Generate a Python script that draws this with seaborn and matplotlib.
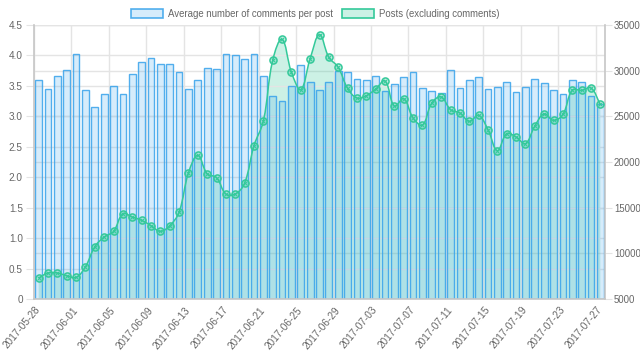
import numpy as np
import pandas as pd
import matplotlib
matplotlib.use('Agg')
import matplotlib.pyplot as plt
from matplotlib.path import Path
from matplotlib.patches import PathPatch, Patch
import seaborn as sns

# daily data, 2017-05-28 .. 2017-07-27
dates = pd.date_range('2017-05-28', '2017-07-27').strftime('%Y-%m-%d').tolist()

avg_comments = [3.60, 3.45, 3.67, 3.76, 4.03, 3.44, 3.16, 3.37, 3.49, 3.37,
                3.69, 3.89, 3.95, 3.86, 3.86, 3.72, 3.45, 3.60, 3.79, 3.78,
                4.02, 4.00, 3.94, 4.02, 3.66, 3.34, 3.26, 3.50, 3.85, 3.57,
                3.44, 3.56, 3.74, 3.73, 3.62, 3.59, 3.66, 3.42, 3.53, 3.64,
                3.72, 3.46, 3.42, 3.39, 3.76, 3.46, 3.60, 3.65, 3.45, 3.48,
                3.57, 3.40, 3.48, 3.61, 3.54, 3.43, 3.36, 3.59, 3.57, 3.34,
                3.21]

posts = [7300, 7850, 7850, 7550, 7370, 8540, 10730, 11790, 12410, 14340,
         13980, 13610, 13030, 12410, 13030, 14530, 18800, 20730, 18720, 18280,
         16500, 16500, 17700, 21790, 24490, 31130, 33430, 29850, 27920, 31310,
         33940, 31460, 30370, 28070, 27010, 27260, 27990, 28870, 26130, 26930,
         24820, 24050, 26460, 27120, 25730, 25370, 24450, 25110, 23540, 21240,
         23100, 22740, 22010, 23940, 25260, 24560, 25220, 27850, 27850, 28100,
         26310]

label_bars = 'Average number of comments per post'
label_posts = 'Posts (excluding comments)'

sns.set_style('white')
plt.rcParams['font.family'] = ['Liberation Sans', 'DejaVu Sans']

blue = (54/255, 162/255, 235/255)
green = (52/255, 201/255, 154/255)
txt = '#666666'
grid_c = '#e4e4e4'
axis_c = '#c6c6c6'
fs = 7.2

fig = plt.figure(figsize=(6.4, 3.6), dpi=100)
ax = fig.add_axes([34/640, 61/360, 571/640, 274/360])
ax_area = ax.twinx()
ax_line = ax.twinx()
ax_area.set_zorder(0)
ax.set_zorder(1)
ax_line.set_zorder(2)
ax.patch.set_visible(False)

# bars (left axis)
sns.barplot(x=dates, y=avg_comments, ax=ax, color=blue, saturation=1, width=0.72)
for p in ax.patches:
    p.set_facecolor((*blue, 0.2))
    p.set_edgecolor((*blue, 0.85))
    p.set_linewidth(1)

n = len(dates)
ax.set_xlim(-0.5, n - 0.5)
ax.set_ylim(0, 4.5)
yt = np.arange(0, 4.51, 0.5)
ax.set_yticks(yt)
ax.set_yticklabels(['0'] + ['%.1f' % v for v in yt[1:]])
ax.set_xticks(range(0, n, 4))
ax.set_xticklabels(dates[::4], rotation=50, ha='right', va='center', rotation_mode='anchor')
ax.set_xticks(np.arange(-0.5, n, 4), minor=True)
ax.tick_params(axis='x', which='major', length=0, pad=6.5, labelsize=fs, labelcolor=txt)
ax.tick_params(axis='x', which='minor', length=4, color=grid_c)
ax.tick_params(axis='y', length=6, color=grid_c, pad=2, labelsize=fs, labelcolor=txt)
ax.grid(False)
ax.grid(True, which='minor', axis='x', color=grid_c, lw=1)
ax.yaxis.grid(True, color=grid_c, lw=1)
ax.set_axisbelow(True)
ax.set_xlabel('')
ax.set_ylabel('')
for s in ['top', 'right']:
    ax.spines[s].set_visible(False)
for s in ['left', 'bottom']:
    ax.spines[s].set_color(axis_c)
    ax.spines[s].set_linewidth(1.2)

# smooth curve like chart.js (tension 0.4), control points in pixel space
x = np.arange(n, dtype=float)
y = np.array(posts, dtype=float)
sx, sy = 571 / n, 274 / 30000
t = 0.4
cp_prev, cp_next = [], []
for i in range(n):
    i0, i2 = max(i - 1, 0), min(i + 1, n - 1)
    d01 = np.hypot((x[i] - x[i0]) * sx, (y[i] - y[i0]) * sy)
    d12 = np.hypot((x[i2] - x[i]) * sx, (y[i2] - y[i]) * sy)
    s01 = d01 / (d01 + d12) if d01 + d12 else 0
    s12 = d12 / (d01 + d12) if d01 + d12 else 0
    dx, dy = x[i2] - x[i0], y[i2] - y[i0]
    cp_prev.append((x[i] - t * s01 * dx, y[i] - t * s01 * dy))
    cp_next.append((x[i] + t * s12 * dx, y[i] + t * s12 * dy))

verts = [(x[0], y[0])]
codes = [Path.MOVETO]
for i in range(n - 1):
    verts += [cp_next[i], cp_prev[i + 1], (x[i + 1], y[i + 1])]
    codes += [Path.CURVE4] * 3
fill_verts = verts + [(x[-1], 5000), (x[0], 5000), (x[0], y[0])]
fill_codes = codes + [Path.LINETO, Path.LINETO, Path.CLOSEPOLY]

ax_area.add_patch(PathPatch(Path(fill_verts, fill_codes), facecolor=(*green, 0.25),
                            edgecolor='none'))
ax_line.add_patch(PathPatch(Path(verts, codes), facecolor='none', edgecolor=green, lw=1.1))
sns.scatterplot(x=x, y=y, ax=ax_line, s=26, color=(*green, 0.3), edgecolor=green,
                linewidth=1.1, zorder=3)
sns.scatterplot(x=x, y=y, ax=ax_line, s=6, marker='x', color=green, linewidth=0.7, zorder=4)

for a in (ax_area, ax_line):
    a.set_ylim(5000, 35000)
    a.set_yticks(range(5000, 35001, 5000))
    for s in a.spines.values():
        s.set_visible(False)
    a.set_ylabel('')
ax_area.tick_params(axis='y', right=False, labelright=False)
ax_area.yaxis.grid(True, color=grid_c, lw=1)
ax_area.set_axisbelow(True)
ax_line.tick_params(axis='y', length=5, color=grid_c, pad=1.5, labelsize=6.9, labelcolor=txt)
ax_line.spines['right'].set_visible(True)
ax_line.spines['right'].set_color(axis_c)
ax_line.spines['right'].set_linewidth(1.2)

fig.legend(handles=[Patch(facecolor=(*blue, 0.2), edgecolor=(*blue, 0.85), lw=1.2, label=label_bars),
                    Patch(facecolor=(*green, 0.25), edgecolor=green, lw=1.2, label=label_posts)],
           loc='upper center', bbox_to_anchor=(0.493, 1.0), ncol=2, frameon=False,
           fontsize=6.9, labelcolor=txt, handlelength=3.3, handleheight=1.0,
           handletextpad=0.6, columnspacing=0.9)

fig.savefig('out.png', dpi=100)
